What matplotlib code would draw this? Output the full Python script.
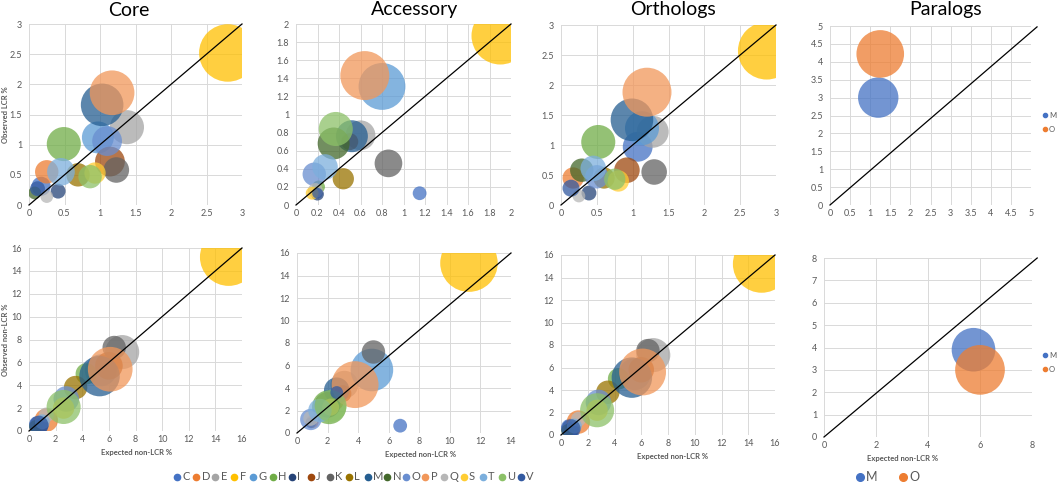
import numpy as np
import matplotlib
matplotlib.use('Agg')
from matplotlib import pyplot as plt
from matplotlib.lines import Line2D
from matplotlib.ticker import FormatStrFormatter

plt.rcParams['font.family'] = ['Lato', 'DejaVu Sans']

W, H = 1059, 492

categories = ['C', 'D', 'E', 'F', 'G', 'H', 'I', 'J', 'K', 'L', 'M', 'N', 'O', 'P', 'Q', 'S', 'T', 'U', 'V']
colours = ['#4472C4', '#ED7D31', '#A5A5A5', '#FFC000', '#5B9BD5', '#70AD47', '#264478', '#9E480E', '#636363',
           '#997300', '#255E91', '#43682B', '#698ED0', '#F1975A', '#B7B7B7', '#FFCD33', '#7CAFDD', '#8CC168', '#335AA1']

# Core
core_lcr_x = [0.17, 0.25, 1.38, 2.8, 0.97, 0.49, 0.41, 1.14, 1.23, 0.69, 1.03, 0.08, 1.1, 1.17, 0.25, 0.93, 0.45, 0.86, 0.12]
core_lcr_y = [0.31, 0.55, 1.29, 2.52, 1.12, 1.01, 0.23, 0.72, 0.58, 0.5, 1.66, 0.2, 1.06, 1.86, 0.14, 0.53, 0.55, 0.47, 0.27]
core_lcr_n = [81, 121, 256, 729, 225, 256, 49, 196, 144, 121, 400, 36, 196, 441, 36, 100, 169, 121, 49]
core_non_x = [0.7, 1.3, 7.0, 15.0, 5.4, 4.3, 0.9, 6.0, 6.4, 3.5, 5.3, 0.5, 2.8, 6.1, 1.3, 2.6, 1.0, 2.6, 0.75]
core_non_y = [0.5, 0.95, 6.9, 15.2, 5.3, 5.0, 0.5, 5.7, 7.3, 3.8, 4.8, 0.4, 2.8, 5.4, 1.4, 2.0, 0.8, 2.1, 0.5]
core_non_n = [81, 121, 256, 729, 225, 100, 49, 169, 121, 121, 361, 36, 144, 441, 49, 100, 49, 256, 81]

# Accessory
acc_lcr_x = [1.15, 0.2, 0.6, 1.9, 0.8, 0.21, 0.2, 0.5, 0.86, 0.44, 0.52, 0.35, 0.17, 0.64, 0.18, 0.15, 0.27, 0.37, 0.2]
acc_lcr_y = [0.13, 0.15, 0.77, 1.87, 1.31, 0.2, 0.12, 0.7, 0.46, 0.29, 0.76, 0.68, 0.34, 1.43, 0.16, 0.13, 0.42, 0.84, 0.13]
acc_lcr_n = [42, 25, 196, 729, 484, 36, 36, 64, 169, 100, 225, 225, 121, 529, 49, 36, 144, 256, 25]
acc_non_x = [6.75, 1.0, 3.1, 11.25, 4.9, 2.1, 0.9, 3.0, 5.0, 2.5, 2.6, 2.0, 0.9, 3.8, 0.9, 2.2, 1.5, 2.2, 2.6]
acc_non_y = [0.65, 1.0, 4.3, 15.1, 5.6, 2.3, 0.9, 3.5, 7.2, 2.8, 3.8, 2.5, 1.2, 4.3, 1.3, 2.3, 2.0, 2.4, 3.6]
acc_non_n = [42, 36, 169, 729, 400, 256, 25, 64, 121, 64, 144, 144, 100, 484, 49, 64, 121, 225, 36]

# Orthologs
orth_lcr_x = [1.07, 0.17, 1.28, 2.87, 1.13, 0.52, 0.39, 0.92, 1.3, 0.6, 0.99, 0.29, 0.5, 1.2, 0.25, 0.8, 0.45, 0.75, 0.14]
orth_lcr_y = [0.97, 0.45, 1.22, 2.57, 1.28, 1.05, 0.2, 0.58, 0.55, 0.45, 1.42, 0.58, 0.47, 1.88, 0.15, 0.4, 0.61, 0.43, 0.28]
orth_lcr_n = [196, 100, 225, 729, 256, 256, 49, 144, 144, 100, 400, 121, 121, 529, 36, 100, 144, 100, 64]
orth_non_x = [0.7, 1.3, 6.9, 15.0, 5.5, 4.3, 0.8, 6.0, 6.5, 3.5, 5.3, 0.5, 2.8, 6.1, 1.3, 2.7, 1.0, 2.7, 0.75]
orth_non_y = [0.6, 1.15, 7.1, 15.2, 5.4, 5.0, 0.5, 5.8, 7.5, 3.8, 5.1, 0.4, 2.9, 5.6, 1.4, 2.2, 0.8, 2.2, 0.55]
orth_non_n = [81, 121, 256, 729, 225, 100, 49, 144, 121, 121, 361, 36, 144, 484, 49, 100, 49, 256, 81]

# Paralogs
para_categories = ['M', 'O']
para_colours = ['#4472C4', '#ED7D31']
para_lcr_x = [1.2, 1.25]
para_lcr_y = [3.0, 4.22]
para_lcr_n = [360, 500]
para_non_x = [5.75, 6.0]
para_non_y = [3.9, 3.0]
para_non_n = [420, 545]

GREY = '#595959'
fig = plt.figure(figsize=(W / 100, H / 100), dpi=100)


def box(x0, y0, x1, y1):
    return [x0 / W, 1 - y1 / H, (x1 - x0) / W, (y1 - y0) / H]


def panel(rect, xs, ys, ns, cols, xmax, xstep, ymax, ystep, line_end=(1, 1)):
    ax = fig.add_axes(box(*rect))
    # bubble area follows the size value
    ax.scatter(xs, ys, s=np.array(ns) * 2.35, c=cols, alpha=0.75, linewidths=0, zorder=3)
    ax.plot([0, line_end[0]], [0, line_end[1]], transform=ax.transAxes, color='black', lw=0.9,
            zorder=4, clip_on=False)
    ax.set_xlim(0, xmax)
    ax.set_ylim(0, ymax)
    ax.set_xticks(np.arange(0, xmax + xstep / 2, xstep))
    ax.set_yticks(np.arange(0, ymax + ystep / 2, ystep))
    ax.xaxis.set_major_formatter(FormatStrFormatter('%g'))
    ax.yaxis.set_major_formatter(FormatStrFormatter('%g'))
    ax.tick_params(length=0, labelsize=6.5, labelcolor=GREY)
    ax.tick_params(axis='x', pad=3)
    ax.tick_params(axis='y', pad=5)
    ax.grid(True, color='#D9D9D9', lw=0.7, zorder=0)
    for s in ax.spines.values():
        s.set_visible(False)
    return ax


def legend_row(names, cols, x0, y, pitch, size, fs, gap):
    # one marker + letter per entry, fixed pitch like the original legend
    for i, (name, col) in enumerate(zip(names, cols)):
        x = x0 + i * pitch
        fig.add_artist(Line2D([x / W], [1 - y / H], marker='o', ls='', color=col, markersize=size,
                              transform=fig.transFigure))
        fig.text((x + gap) / W, 1 - y / H, name, ha='left', va='center', fontsize=fs, color=GREY)


panel((29, 24, 242, 205), core_lcr_x, core_lcr_y, core_lcr_n, colours, 3, 0.5, 3, 0.5)
panel((296, 24, 511, 205), acc_lcr_x, acc_lcr_y, acc_lcr_n, colours, 2, 0.2, 2, 0.2)
panel((561, 25, 776, 205), orth_lcr_x, orth_lcr_y, orth_lcr_n, colours, 3, 0.5, 3, 0.5)
panel((830, 26, 1031, 205), para_lcr_x, para_lcr_y, para_lcr_n, para_colours, 5, 0.5, 5, 0.5, (1.03, 0.995))

panel((29, 248, 242, 431), core_non_x, core_non_y, core_non_n, colours, 16, 2, 16, 2)
panel((297, 253, 511, 433), acc_non_x, acc_non_y, acc_non_n, colours, 14, 2, 16, 2)
panel((561, 255, 775, 435), orth_non_x, orth_non_y, orth_non_n, colours, 16, 2, 16, 2)
panel((824, 258, 1032, 437), para_non_x, para_non_y, para_non_n, para_colours, 8, 2, 8, 1, (1.025, 1.0))

# titles
for name, xc in [('Core', 129), ('Accessory', 415), ('Orthologs', 673), ('Paralogs', 946)]:
    fig.text(xc / W, 1 - 10 / H, name, ha='center', va='center', fontsize=14, color='black')

fig.text(6 / W, 1 - 115 / H, 'Observed LCR %', rotation=90, ha='center', va='center',
         fontsize=5.5, fontweight='bold', color=GREY)
fig.text(6 / W, 1 - 340 / H, 'Observed non-LCR %', rotation=90, ha='center', va='center',
         fontsize=5.5, fontweight='bold', color=GREY)
for xc, yc in [(137, 452), (421, 455), (673, 457), (903, 458)]:
    fig.text(xc / W, 1 - yc / H, 'Expected non-LCR %', ha='center', va='center',
             fontsize=5.5, fontweight='bold', color=GREY)

# legends
legend_row(categories, colours, 177, 477, 19.1, 4.5, 8, 5.5)
legend_row(para_categories, para_colours, 860, 477, 43, 5.5, 9, 6)
for yc in (115, 355):
    legend_row(para_categories[:1], para_colours[:1], 1045, yc, 0, 3, 5.5, 4)
    legend_row(para_categories[1:], para_colours[1:], 1045, yc + 14, 0, 3, 5.5, 4)

fig.savefig('out.png', dpi=100)
